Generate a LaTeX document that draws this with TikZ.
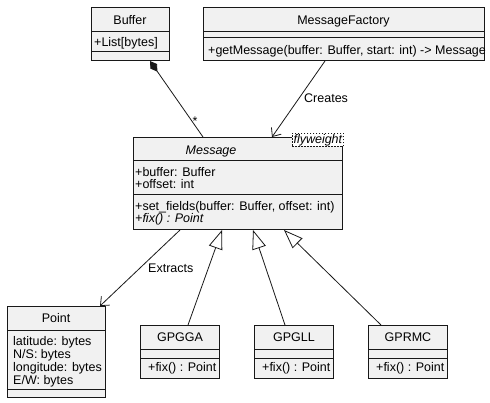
\documentclass[tikz,border=0pt]{standalone}
\usepackage{fontspec}
\setmainfont{Liberation Sans}
\usetikzlibrary{arrows.meta,calc}
\definecolor{boxfill}{HTML}{F1F1F1}
\definecolor{boxline}{HTML}{181818}
\tikzset{
  classbox/.style={draw=boxline, fill=boxfill, line width=1pt, inner sep=0pt, anchor=north west},
  sepline/.style={draw=boxline, line width=1pt},
  classname/.style={anchor=base, inner sep=0pt, font=\fontsize{12.5}{13}\selectfont},
  member/.style={anchor=base west, inner sep=0pt, font=\fontsize{12.5}{13}\selectfont},
  link/.style={draw=boxline, line width=0.8pt},
  linklabel/.style={anchor=base west, inner sep=0pt, font=\fontsize{12.5}{13}\selectfont},
}
\begin{document}
\begin{tikzpicture}[x=1pt, y=-1pt]
  \useasboundingbox (0,0) rectangle (490,403);

  % Buffer
  \node[classbox, minimum width=78pt, minimum height=53pt] (buffer) at (91,7) {};
  \draw[sepline] ($(buffer.north west)+(0,25)$) -- ($(buffer.north east)+(0,25)$);
  \draw[sepline] ($(buffer.north west)+(0,45)$) -- ($(buffer.north east)+(0,45)$);
  \node[classname] (buffer-name) at (130,25) {Buffer};
  \node[member] (buffer-list) at (94,47) {+List[bytes]};

  % MessageFactory
  \node[classbox, minimum width=281pt, minimum height=53pt] (factory) at (203,7) {};
  \draw[sepline] ($(factory.north west)+(0,25)$) -- ($(factory.north east)+(0,25)$);
  \draw[sepline] ($(factory.north west)+(0,31)$) -- ($(factory.north east)+(0,31)$);
  \node[classname] (factory-name) at (343.5,25) {MessageFactory};
  \node[member] (factory-get) at (208,55) {+getMessage(buffer: Buffer, start: int) -> Message};

  % Message
  \node[classbox, minimum width=209pt, minimum height=92pt] (message) at (133,137) {};
  \draw[sepline] ($(message.north west)+(0,24)$) -- ($(message.north east)+(0,24)$);
  \draw[sepline] ($(message.north west)+(0,58)$) -- ($(message.north east)+(0,58)$);
  \node[classname, font=\fontsize{12.5}{13}\selectfont\itshape] (message-name) at (211,154.5) {Message};
  \node[member] (message-buffer) at (135,176.5) {+buffer: Buffer};
  \node[member] (message-offset) at (135,188.5) {+offset: int};
  \node[member] (message-set) at (135,211) {+set\_fields(buffer: Buffer, offset: int)};
  \node[member, font=\fontsize{12.5}{13}\selectfont\itshape] (message-fix) at (135,223) {+fix() : Point};
  \node[draw=boxline, dash pattern=on 1.5pt off 1.5pt, line width=0.7pt, fill=white,
        inner sep=0pt, anchor=north west, minimum width=51pt, minimum height=13pt,
        font=\fontsize{12.5}{13}\selectfont\itshape] (message-stereo) at (292,133) {flyweight};

  % Point
  \node[classbox, minimum width=98pt, minimum height=91pt] (point) at (7,306) {};
  \draw[sepline] ($(point.north west)+(0,25)$) -- ($(point.north east)+(0,25)$);
  \draw[sepline] ($(point.north west)+(0,83)$) -- ($(point.north east)+(0,83)$);
  \node[classname] (point-name) at (56,323) {Point};
  \node[member] (point-lat) at (13,345) {latitude: bytes};
  \node[member] (point-ns) at (13,358) {N/S: bytes};
  \node[member] (point-lon) at (13,371) {longitude: bytes};
  \node[member] (point-ew) at (13,384) {E/W: bytes};

  % GPGGA, GPGLL, GPRMC
  \foreach \name/\x in {GPGGA/140, GPGLL/254, GPRMC/368} {
    \node[classbox, minimum width=79pt, minimum height=53pt] (\name) at (\x,325) {};
    \draw[sepline] ($(\name.north west)+(0,24)$) -- ($(\name.north east)+(0,24)$);
    \draw[sepline] ($(\name.north west)+(0,33)$) -- ($(\name.north east)+(0,33)$);
    \node[classname] (\name-name) at ($(\name.north)+(0,16.5)$) {\name};
    \node[member] (\name-fix) at ($(\name.north west)+(8,46)$) {+fix() : Point};
  }

  % connectors
  \coordinate (buffer-out) at ($(buffer.south west)+(59,0)$);
  \coordinate (message-in1) at ($(message.north west)+(70,0)$);
  \coordinate (factory-out) at ($(factory.south west)+(122,0)$);
  \coordinate (message-in2) at ($(message.north west)+(139,0)$);
  \coordinate (message-out) at ($(message.south west)+(47,0)$);
  \coordinate (point-in) at ($(point.north west)+(93,0)$);

  \draw[link, {Diamond[length=13pt, width=8pt, fill=boxline]}-] (buffer-out) -- (message-in1);
  \node[classname] (star) at (195,126) {*};
  \draw[link, -{Straight Barb[length=7pt, width=12pt]}] (factory-out) -- (message-in2);
  \node[linklabel] (creates) at (304,103) {Creates};
  \draw[link, -{Straight Barb[length=7pt, width=12pt]}] (message-out) -- (point-in);
  \node[linklabel] (extracts) at (148,273) {Extracts};

  \draw[link, -{Triangle[length=19pt, width=14pt, fill=white]}]
    ($(GPGGA.north west)+(48,0)$) -- ($(message.south west)+(89,0)$);
  \draw[link, -{Triangle[length=19pt, width=14pt, fill=white]}]
    ($(GPGLL.north west)+(31,0)$) -- ($(message.south west)+(120,0)$);
  \draw[link, -{Triangle[length=19pt, width=14pt, fill=white]}]
    ($(GPRMC.north west)+(13,0)$) -- ($(message.south west)+(151,0)$);
\end{tikzpicture}
\end{document}
